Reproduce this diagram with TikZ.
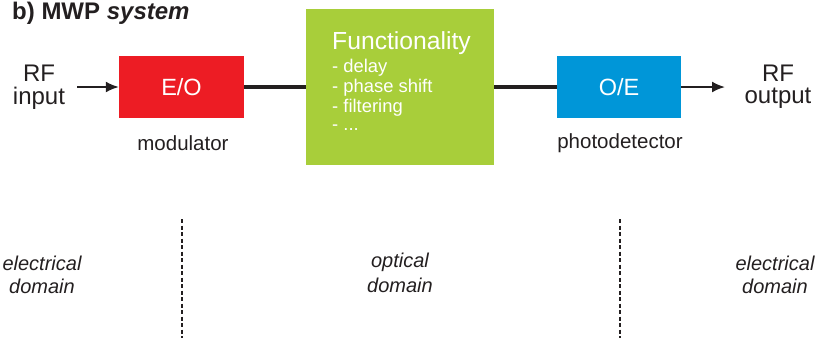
\documentclass[tikz,border=0pt]{standalone}
\usepackage{fontspec}
\setmainfont{Liberation Sans}
\usetikzlibrary{arrows.meta}
\definecolor{txt}{HTML}{231F20}
\definecolor{eored}{HTML}{ED1C24}
\definecolor{fgreen}{HTML}{A8CE3A}
\definecolor{oeblue}{HTML}{0096D8}
\tikzset{
  box/.style={draw=none, inner sep=0pt, text=white, font=\fontsize{23.5}{26}\selectfont},
  lbl/.style={text=txt, inner sep=0pt, align=center},
  big/.style={font=\fontsize{24}{26}\selectfont},
  small/.style={font=\fontsize{20.5}{23}\selectfont},
  dom/.style={text=txt, inner sep=0pt, align=center, font=\fontsize{20}{23}\selectfont\itshape},
  item/.style={anchor=west, inner sep=0pt, text=white, font=\fontsize{18.4}{20}\selectfont},
  wire/.style={draw=txt, line width=4pt},
  arr/.style={draw=txt, line width=2pt, -{Latex[length=13pt,width=11pt]}},
  sep/.style={draw=txt, line width=1.3pt, dash pattern=on 4pt off 2.5pt}
}
\begin{document}
\begin{tikzpicture}[x=1pt,y=-1pt]
\useasboundingbox (0,0) rectangle (816,338);
\node[anchor=west, inner sep=0pt, text=txt, font=\fontsize{24}{26}\selectfont\bfseries] (title) at (12,13) {b) MWP \textit{system}};

\node[box, fill=eored, minimum width=125pt, minimum height=62pt] (eo) at (181.5,87) {E/O};
\node[box, fill=fgreen, minimum width=188pt, minimum height=156pt] (fn) at (400,87) {};
\node[box, fill=oeblue, minimum width=124pt, minimum height=62pt] (oe) at (619,87) {O/E};

\node[anchor=west, inner sep=0pt, text=white, font=\fontsize{24.7}{26}\selectfont] (fun) at (332,43) {Functionality};
\node[item] (i1) at (332,68) {- delay};
\node[item] (i2) at (332,88) {- phase shift};
\node[item] (i3) at (332,108) {- filtering};
\node[item] (i4) at (332,128) {- ...};

\node[lbl, big] (rfin) at (39,73) {RF};
\node[lbl, big] (rfin2) at (39,98) {input};
\node[lbl, big] (rfout) at (778,73) {RF};
\node[lbl, big] (rfout2) at (778,98) {output};

\node[lbl, small] (mod) at (183,143) {modulator};
\node[lbl, small] (pd) at (620,143) {photodetector};

\coordinate (ain) at (77,87);
\coordinate (aout) at (725,87);
\draw[arr] (ain) -- (eo.west);
\draw[arr] (oe.east) -- (aout);
\draw[wire] (eo.east) -- (fn.west);
\draw[wire] (fn.east) -- (oe.west);

\coordinate (d1t) at (182,219);
\coordinate (d1b) at (182,338);
\coordinate (d2t) at (620,219);
\coordinate (d2b) at (620,338);
\draw[sep] (d1t) -- (d1b);
\draw[sep] (d2t) -- (d2b);

\node[dom] (e1) at (42,263) {electrical};
\node[dom] (e1b) at (42,286) {domain};
\node[dom] (o1) at (400,262) {optical};
\node[dom] (o1b) at (400,285) {domain};
\node[dom] (e2) at (775,263) {electrical};
\node[dom] (e2b) at (775,286) {domain};
\end{tikzpicture}
\end{document}
